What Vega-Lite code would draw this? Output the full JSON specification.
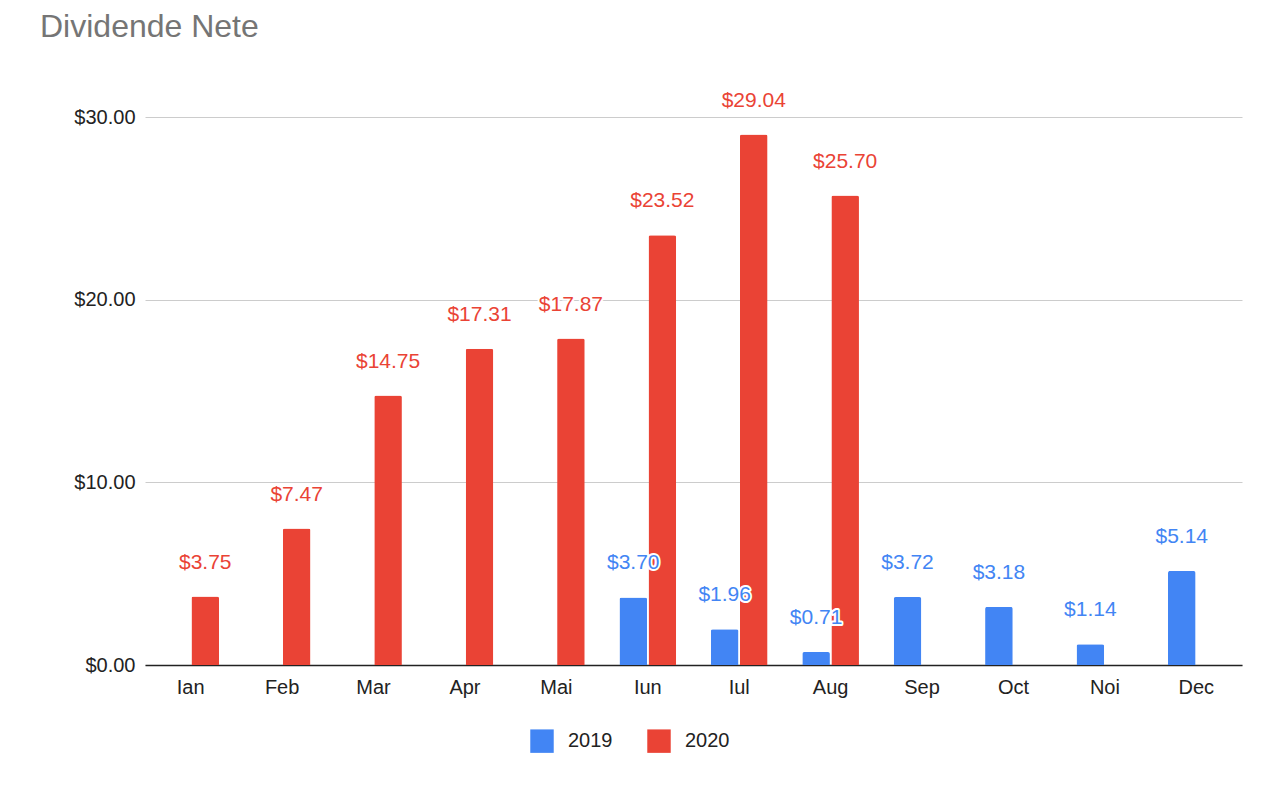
{
  "$schema": "https://vega.github.io/schema/vega-lite/v6.json",
  "width": 1097,
  "height": 548,
  "autosize": "none",
  "padding": {"left": 145, "top": 117, "right": 40, "bottom": 127},
  "background": "white",
  "config": {"font": "Liberation Sans", "view": {"stroke": null}},
  "title": {"text": "Dividende Nete", "anchor": "start", "frame": "group", "dx": -105, "offset": 46, "fontSize": 32, "fontWeight": "normal", "color": "#757575", "font": "Liberation Sans"},
  "data": {"values": [
    {"month": "Ian", "year": "2020", "value": 3.75},
    {"month": "Feb", "year": "2020", "value": 7.47},
    {"month": "Mar", "year": "2020", "value": 14.75},
    {"month": "Apr", "year": "2020", "value": 17.31},
    {"month": "Mai", "year": "2020", "value": 17.87},
    {"month": "Iun", "year": "2019", "value": 3.70},
    {"month": "Iun", "year": "2020", "value": 23.52},
    {"month": "Iul", "year": "2019", "value": 1.96},
    {"month": "Iul", "year": "2020", "value": 29.04},
    {"month": "Aug", "year": "2019", "value": 0.71},
    {"month": "Aug", "year": "2020", "value": 25.70},
    {"month": "Sep", "year": "2019", "value": 3.72},
    {"month": "Oct", "year": "2019", "value": 3.18},
    {"month": "Noi", "year": "2019", "value": 1.14},
    {"month": "Dec", "year": "2019", "value": 5.14}
  ]},
  "encoding": {
    "x": {"field": "month", "type": "nominal", "sort": null, "title": null,
      "scale": {"domain": ["Ian","Feb","Mar","Apr","Mai","Iun","Iul","Aug","Sep","Oct","Noi","Dec"], "paddingInner": 0.38, "paddingOuter": 0.19},
      "axis": {"labelAngle": 0, "labelFontSize": 20, "labelColor": "#222", "labelPadding": 12, "ticks": false, "domainColor": "#222", "domainWidth": 1.5}},
    "xOffset": {"field": "year", "type": "nominal", "scale": {"domain": ["2019", "2020"], "paddingInner": 0.05}},
    "y": {"field": "value", "type": "quantitative", "title": null,
      "scale": {"domain": [0, 30]},
      "axis": {"values": [0, 10, 20, 30], "format": "$,.2f", "labelFontSize": 20, "labelColor": "#222", "labelPadding": 10, "ticks": false, "domain": false, "gridColor": "#cccccc"}},
    "color": {"field": "year", "type": "nominal",
      "scale": {"domain": ["2019", "2020"], "range": ["#4285f4", "#ea4335"]},
      "legend": {"title": null, "orient": "none", "legendX": 385, "legendY": 612, "direction": "horizontal", "symbolType": "square", "symbolSize": 550, "symbolStrokeWidth": 0, "symbolOpacity": 1, "labelFontSize": 20, "labelColor": "#222", "columnPadding": 34, "labelOffset": 14}}
  },
  "layer": [
    {"mark": {"type": "bar", "cornerRadiusTopLeft": 2, "cornerRadiusTopRight": 2}},
    {"mark": {"type": "text", "baseline": "bottom", "dy": -24, "fontSize": 21, "stroke": "white", "strokeWidth": 4, "strokeJoin": "round"},
      "encoding": {"text": {"field": "value", "type": "quantitative", "format": "$,.2f"}, "color": {"value": "white"}}},
    {"mark": {"type": "text", "baseline": "bottom", "dy": -24, "fontSize": 21},
      "encoding": {"text": {"field": "value", "type": "quantitative", "format": "$,.2f"}}}
  ]
}
